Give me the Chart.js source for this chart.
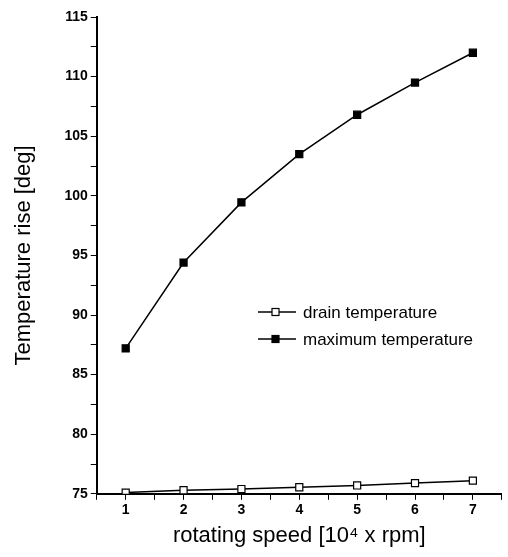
<!DOCTYPE html>
<html>
<head>
<meta charset="utf-8">
<script src="https://cdn.jsdelivr.net/npm/chart.js@4"></script>
<style>
  body { margin: 0; background: #fff; }
  #wrap { width: 508px; height: 557px; }
</style>
</head>
<body>
<div id="wrap"><canvas id="tempChart" width="508" height="557"></canvas></div>
<script>
const speeds = [1, 2, 3, 4, 5, 6, 7];
const drainTemp = [75.1, 75.3, 75.4, 75.55, 75.7, 75.9, 76.1];
const maxTemp = [87.2, 94.4, 99.45, 103.5, 106.8, 109.5, 112.0];
const seriesNames = ['drain temperature', 'maximum temperature'];

const font = 'Liberation Sans, Arial, sans-serif';

// legend drawn inside the plot, like the original figure
const innerLegend = {
    id: 'innerLegend',
    afterDraw(chart) {
        const ctx = chart.ctx;
        const x0 = 258, y0 = 312, gap = 27;
        chart.data.datasets.forEach((ds, i) => {
            const y = y0 + i * gap;
            ctx.save();
            ctx.strokeStyle = '#000';
            ctx.lineWidth = 1.5;
            ctx.beginPath();
            ctx.moveTo(x0, y);
            ctx.lineTo(x0 + 38, y);
            ctx.stroke();
            ctx.fillStyle = ds.pointBackgroundColor;
            ctx.fillRect(x0 + 14, y - 3.5, 7, 7);
            ctx.lineWidth = 1.2;
            ctx.strokeRect(x0 + 14, y - 3.5, 7, 7);
            ctx.fillStyle = '#000';
            ctx.font = '17px ' + font;
            ctx.textBaseline = 'middle';
            ctx.fillText(ds.label, x0 + 45, y + 1);
            ctx.restore();
        });
    }
};

const ctx = document.getElementById('tempChart').getContext('2d');
new Chart(ctx, {
    type: 'line',
    data: {
        datasets: [{
            label: seriesNames[0],
            data: speeds.map((s, i) => ({ x: s, y: drainTemp[i] })),
            borderColor: '#000',
            borderWidth: 1.5,
            pointStyle: 'rect',
            pointRadius: 5,
            pointBorderWidth: 1.2,
            pointBackgroundColor: '#fff',
            pointBorderColor: '#000'
        }, {
            label: seriesNames[1],
            data: speeds.map((s, i) => ({ x: s, y: maxTemp[i] })),
            borderColor: '#000',
            borderWidth: 1.5,
            pointStyle: 'rect',
            pointRadius: 5,
            pointBorderWidth: 1.2,
            pointBackgroundColor: '#000',
            pointBorderColor: '#000'
        }]
    },
    options: {
        responsive: false,
        animation: false,
        layout: { padding: { top: 17, right: 0, left: 11, bottom: 8 } },
        plugins: {
            legend: { display: false },
            tooltip: { enabled: false }
        },
        scales: {
            x: {
                type: 'linear',
                min: 0.5,
                max: 7.5,
                ticks: {
                    stepSize: 0.5,
                    color: '#000',
                    font: { family: font, size: 14, weight: 'bold' },
                    padding: 2,
                    maxRotation: 0,
                    autoSkip: false,
                    callback: v => Number.isInteger(v) ? v : ''
                },
                grid: {
                    drawOnChartArea: false,
                    color: '#000',
                    tickLength: 6,
                    tickColor: '#000'
                },
                border: { color: '#000', width: 2 },
                title: {
                    display: true,
                    text: 'rotating speed [10⁴ x rpm]',
                    color: '#000',
                    font: { family: font, size: 22 },
                    padding: { top: 2, bottom: 0 }
                }
            },
            y: {
                min: 75,
                max: 115,
                ticks: {
                    stepSize: 2.5,
                    color: '#000',
                    font: { family: font, size: 14, weight: 'bold' },
                    padding: 3,
                    autoSkip: false,
                    callback: v => v % 5 === 0 ? v : ''
                },
                grid: {
                    drawOnChartArea: false,
                    color: '#000',
                    tickLength: 6,
                    tickColor: '#000'
                },
                border: { color: '#000', width: 2 },
                title: {
                    display: true,
                    text: 'Temperature rise [deg]',
                    color: '#000',
                    font: { family: font, size: 22 },
                    padding: { top: 0, bottom: 24 }
                }
            }
        }
    },
    plugins: [innerLegend]
});
</script>
</body>
</html>
